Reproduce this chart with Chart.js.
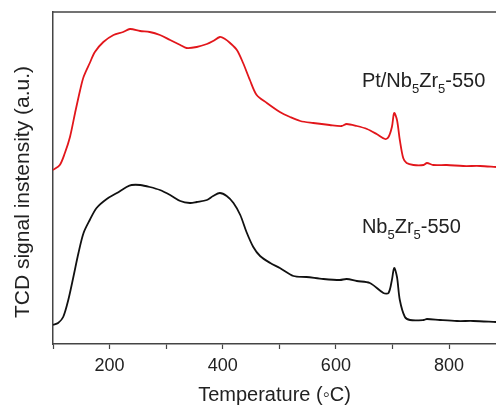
<!DOCTYPE html>
<html>
<head>
<meta charset="utf-8">
<script src="https://cdn.jsdelivr.net/npm/chart.js@4.4.0/dist/chart.umd.min.js"></script>
<style>
  html, body { margin: 0; padding: 0; background: #fff; }
  canvas { display: block; }
</style>
</head>
<body>
<canvas id="tpr" width="496" height="405"></canvas>
<script>
// temperature (°C) / intensity (a.u.)
const ptTemp = [100, 112, 121, 130, 139, 148, 154, 165, 174, 189, 207, 224, 236, 254, 271, 289, 307, 325, 336, 354, 372, 383, 395, 404, 413, 425, 436, 448, 460, 478, 501, 519, 537, 560, 589, 610, 619, 637, 655, 672, 687, 693, 699, 703, 708, 713, 719, 725, 737, 755, 761, 772, 796, 825, 855, 883];
const ptSignal = [174, 179, 191, 207, 231, 254, 267, 281, 292, 302, 309, 312, 315, 313, 312, 309, 304, 299, 296, 297, 300, 303, 307, 305, 301, 294, 281, 264, 249, 241, 232, 227, 223, 221, 219, 218, 220, 218, 215, 210, 205, 207, 217, 231, 224, 204, 186, 181, 179, 179, 181, 179, 179, 178, 178, 177];

const nbTemp = [100, 109, 118, 127, 136, 145, 154, 165, 177, 195, 213, 230, 239, 254, 271, 289, 307, 325, 342, 354, 372, 383, 395, 407, 419, 431, 442, 454, 466, 484, 501, 525, 548, 578, 607, 619, 637, 660, 684, 693, 699, 703, 708, 713, 722, 731, 755, 761, 784, 814, 843, 883];
const nbSignal = [19, 21, 27, 44, 67, 91, 111, 124, 136, 145, 151, 157, 159, 159, 157, 154, 149, 143, 141, 142, 144, 148, 151, 148, 141, 129, 112, 97, 88, 81, 76, 68, 67, 65, 64, 65, 63, 61, 51, 51, 64, 76, 67, 44, 27, 24, 24, 25, 24, 23, 23, 22];

const xLabels = [200, 400, 600, 800];

const toPoints = (xs, ys) => xs.map((x, i) => ({ x, y: ys[i] }));

const FONT = "'Liberation Sans', Arial, sans-serif";

function drawSubText(ctx, x, y, parts, size) {
  let cx = x;
  for (const [txt, sub] of parts) {
    ctx.font = (sub ? Math.round(size * 0.65) : size) + "px " + FONT;
    ctx.fillText(txt, cx, sub ? y + size * 0.3 : y);
    cx += ctx.measureText(txt).width;
  }
}

const decor = {
  id: "decor",
  afterDraw(chart) {
    const { ctx, chartArea, scales } = chart;
    ctx.save();
    // top frame line
    ctx.strokeStyle = "#444";
    ctx.lineWidth = 1.5;
    ctx.beginPath();
    ctx.moveTo(chartArea.left, chartArea.top);
    ctx.lineTo(chartArea.right, chartArea.top);
    ctx.stroke();

    ctx.fillStyle = "#222";
    ctx.textBaseline = "alphabetic";
    ctx.textAlign = "left";
    drawSubText(ctx, scales.x.getPixelForValue(646), scales.y.getPixelForValue(257),
      [["Pt/Nb", false], ["5", true], ["Zr", false], ["5", true], ["-550", false]], 20);
    drawSubText(ctx, scales.x.getPixelForValue(646), scales.y.getPixelForValue(111),
      [["Nb", false], ["5", true], ["Zr", false], ["5", true], ["-550", false]], 20);

    // y axis title
    ctx.translate(23, 192);
    ctx.rotate(-Math.PI / 2);
    ctx.textAlign = "center";
    ctx.textBaseline = "middle";
    ctx.font = "21px " + FONT;
    ctx.fillText("TCD signal instensity (a.u.)", 0, 0);
    ctx.restore();
  }
};

new Chart(document.getElementById("tpr"), {
  type: "line",
  data: {
    datasets: [
      {
        label: "Pt/Nb5Zr5-550",
        data: toPoints(ptTemp, ptSignal),
        borderColor: "#e2161b",
        borderWidth: 1.8,
        pointRadius: 0,
        tension: 0.3,
      },
      {
        label: "Nb5Zr5-550",
        data: toPoints(nbTemp, nbSignal),
        borderColor: "#111",
        borderWidth: 1.8,
        pointRadius: 0,
        tension: 0.3,
      },
    ],
  },
  options: {
    responsive: false,
    animation: false,
    layout: { padding: { top: 12, right: 0, bottom: 0, left: 0 } },
    plugins: { legend: { display: false }, tooltip: { enabled: false } },
    scales: {
      x: {
        type: "linear",
        min: 100,
        max: 883,
        afterBuildTicks: (s) => {
          s.ticks = s.ticks.filter((t) => t.value % 100 === 0);
        },
        afterFit: (s) => { s.height = 61; },
        border: { color: "#444", width: 1.5 },
        grid: { drawOnChartArea: false, tickLength: 5, tickColor: "#444", tickWidth: 1.2 },
        ticks: {
          stepSize: 100,
          autoSkip: false,
          maxRotation: 0,
          padding: 6,
          color: "#222",
          font: { family: FONT, size: 18 },
          callback: (v) => (xLabels.includes(v) ? String(v) : ""),
        },
        title: {
          display: true,
          text: "Temperature (\u25E6C)",
          color: "#222",
          font: { family: FONT, size: 20, lineHeight: 1 },
          padding: 0,
        },
      },
      y: {
        min: 0,
        max: 332,
        afterFit: (s) => { s.width = 53; },
        border: { color: "#444", width: 1.5 },
        grid: { display: false },
        ticks: { display: false },
      },
    },
  },
  plugins: [decor],
});
</script>
</body>
</html>
